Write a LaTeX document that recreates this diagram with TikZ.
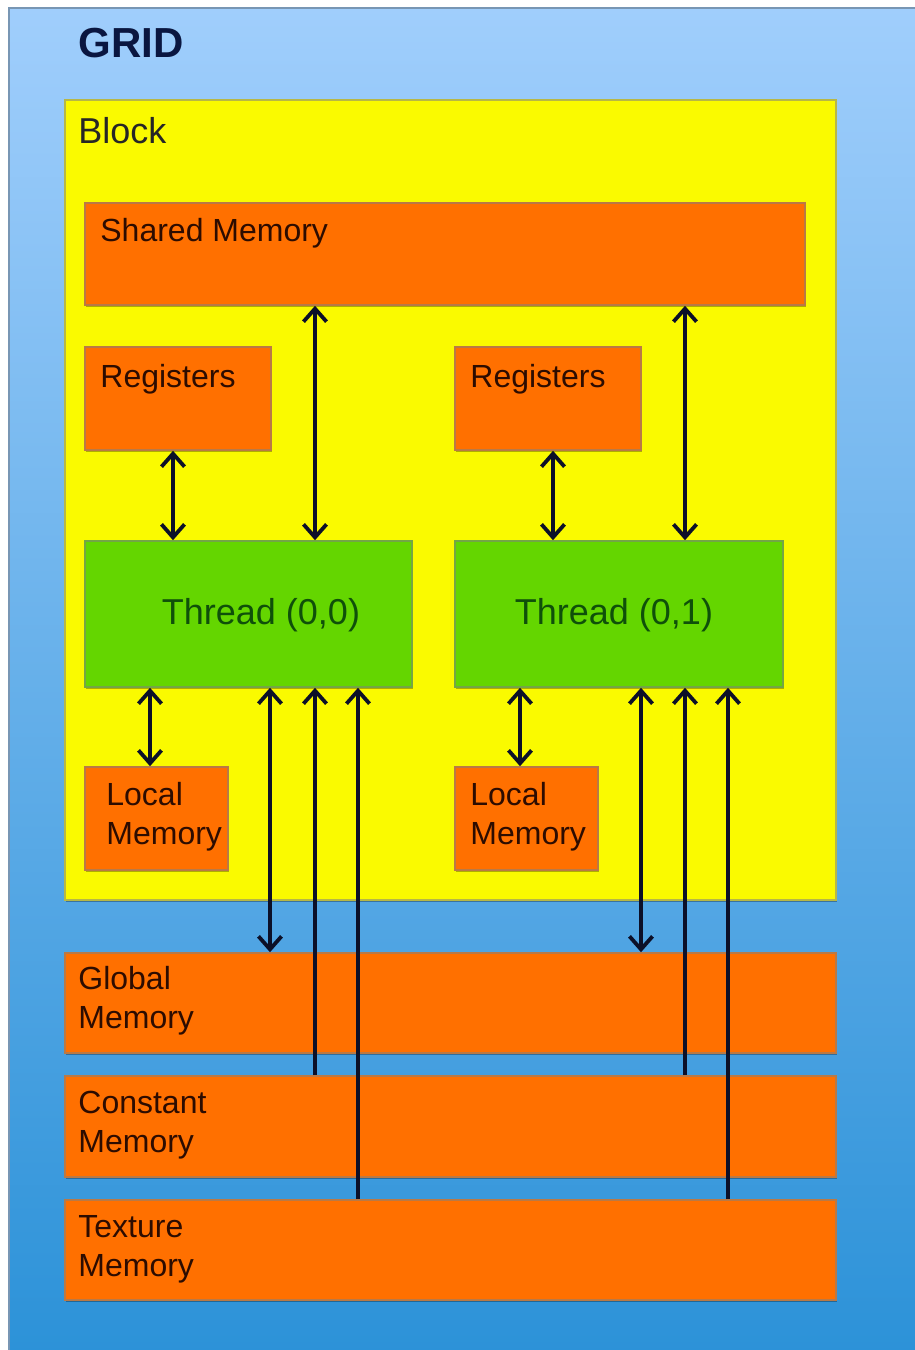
\documentclass[tikz,border=0pt]{standalone}
\usepackage{fontspec}
\setmainfont{Liberation Sans}
\usetikzlibrary{arrows.meta,fit,shadows}
\definecolor{gridtop}{RGB}{160,206,252}
\definecolor{gridbot}{RGB}{44,146,216}
\definecolor{gridline}{RGB}{120,150,180}
\definecolor{blockyel}{RGB}{250,250,0}
\definecolor{memorange}{RGB}{255,112,0}
\definecolor{thrgreen}{RGB}{100,214,0}
\definecolor{arrowcol}{RGB}{12,16,40}
\definecolor{gridtxt}{RGB}{10,22,64}
\definecolor{thrtxt}{RGB}{15,80,10}
\definecolor{memtxt}{RGB}{45,12,0}
\begin{document}
\begin{tikzpicture}[x=0.5pt,y=-0.5pt,
  panel/.style={inner sep=0pt, draw=gray!55!#1, line width=0.8pt, fill=#1,
    drop shadow={shadow xshift=0.7pt,shadow yshift=-0.9pt,opacity=0.3,fill=black}},
  membox/.style={panel=memorange},
  thrbox/.style={panel=thrgreen},
  lbl/.style={anchor=base west, inner sep=0pt, text=memtxt, font=\fontsize{16}{19.5}\selectfont, align=left},
  thrlbl/.style={anchor=base, inner sep=0pt, text=thrtxt, font=\fontsize{18}{21}\selectfont},
  >={Straight Barb[length=6.5pt,width=11.5pt]},
  link/.style={line width=1.9pt, draw=arrowcol}
]
\useasboundingbox (0,0) rectangle (915,1350);
\fill[white] (0,0) rectangle (915,1350);
% grid
\node[fit={(9,8) (918,1353)}, inner sep=0pt, draw=gridline, line width=0.8pt,
  top color=gridtop, bottom color=gridbot] (grid) {};
\node[anchor=base west, inner sep=0pt, text=gridtxt, font=\fontsize{21}{25}\selectfont\bfseries] (gridlbl) at (78,57) {GRID};
% block
\node[fit={(65,100) (836,900)}, panel=blockyel] (block) {};
\node[anchor=base west, inner sep=0pt, text=black!85, font=\fontsize{18}{21}\selectfont] (blocklbl) at (78,143) {Block};
% shared memory
\node[fit={(85,203) (805,305)}, membox] (shared) {};
\node[lbl] (sharedlbl) at (100,241) {Shared Memory};
% registers
\node[fit={(85,347) (271,450)}, membox] (regA) {};
\node[lbl] (regAlbl) at (100,387) {Registers};
\node[fit={(455,347) (641,450)}, membox] (regB) {};
\node[lbl] (regBlbl) at (470,387) {Registers};
% threads
\node[fit={(85,541) (412,687)}, thrbox] (tA) {};
\node[thrlbl] (tAlbl) at (261,624) {Thread (0,0)};
\node[fit={(455,541) (783,687)}, thrbox] (tB) {};
\node[thrlbl] (tBlbl) at (614,624) {Thread (0,1)};
% local memory (base anchor = baseline of last line)
\node[fit={(85,767) (228,870)}, membox] (locA) {};
\node[lbl] (locAlbl) at (106,844) {Local\\Memory};
\node[fit={(455,767) (598,870)}, membox] (locB) {};
\node[lbl] (locBlbl) at (470,844) {Local\\Memory};
% global / constant / texture
\node[fit={(65,953) (836,1053)}, membox] (glob) {};
\node[lbl] (globlbl) at (78,1028) {Global\\Memory};
\node[fit={(65,1076) (836,1177)}, membox] (const) {};
\node[lbl] (constlbl) at (78,1152) {Constant\\Memory};
\node[fit={(65,1200) (836,1300)}, membox] (tex) {};
\node[lbl] (texlbl) at (78,1276) {Texture\\Memory};
% x positions of connectors
\coordinate (xA1) at (150,0);
\coordinate (xA2) at (173,0);
\coordinate (xA3) at (270,0);
\coordinate (xA4) at (315,0);
\coordinate (xA5) at (358,0);
\coordinate (xB1) at (520,0);
\coordinate (xB2) at (553,0);
\coordinate (xB3) at (641,0);
\coordinate (xB4) at (685,0);
\coordinate (xB5) at (728,0);
% thread (0,0) connectors
\draw[link,<->] (shared.south -| xA4) -- (tA.north -| xA4);
\draw[link,<->] (regA.south -| xA2) -- (tA.north -| xA2);
\draw[link,<->] (tA.south -| xA1) -- (locA.north -| xA1);
\draw[link,<->] (tA.south -| xA3) -- (glob.north -| xA3);
\draw[link,->] (const.north -| xA4) -- (tA.south -| xA4);
\draw[link,->] (tex.north -| xA5) -- (tA.south -| xA5);
% thread (0,1) connectors
\draw[link,<->] (shared.south -| xB4) -- (tB.north -| xB4);
\draw[link,<->] (regB.south -| xB2) -- (tB.north -| xB2);
\draw[link,<->] (tB.south -| xB1) -- (locB.north -| xB1);
\draw[link,<->] (tB.south -| xB3) -- (glob.north -| xB3);
\draw[link,->] (const.north -| xB4) -- (tB.south -| xB4);
\draw[link,->] (tex.north -| xB5) -- (tB.south -| xB5);
\end{tikzpicture}
\end{document}
